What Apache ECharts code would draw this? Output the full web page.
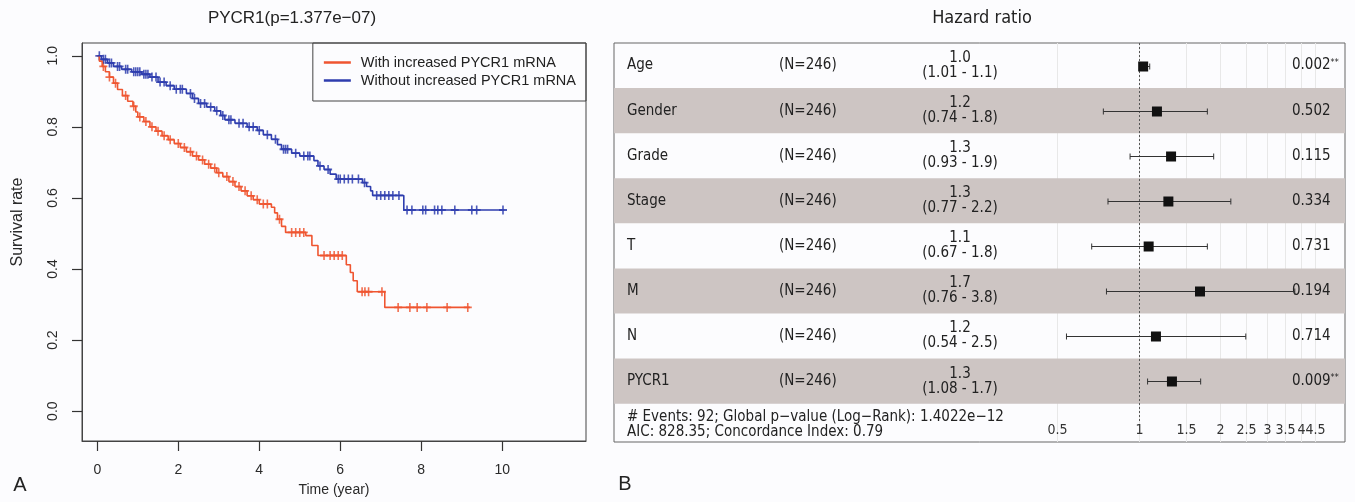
<!DOCTYPE html>
<html>
<head>
<meta charset="utf-8">
<script src="https://cdn.jsdelivr.net/npm/echarts@6/dist/echarts.min.js"></script>
<style>
  html, body { margin: 0; padding: 0; background: #fcfcfe; }
  #chart { width: 1355px; height: 502px; }
</style>
</head>
<body>
<div id="chart"></div>
<script>
// ---- Kaplan-Meier data: [time (year), survival] ----
const highCurve = [[0,1],[0.05,0.985],[0.12,0.97],[0.2,0.955],[0.3,0.94],[0.4,0.923],[0.5,0.905],[0.62,0.888],[0.75,0.872],[0.88,0.858],[0.95,0.842],[1.0,0.828],[1.15,0.815],[1.3,0.8],[1.45,0.788],[1.6,0.775],[1.75,0.764],[1.9,0.753],[2.05,0.742],[2.2,0.73],[2.35,0.718],[2.5,0.707],[2.65,0.695],[2.8,0.684],[2.95,0.671],[3.1,0.66],[3.25,0.646],[3.4,0.632],[3.55,0.62],[3.7,0.606],[3.85,0.595],[4.0,0.583],[4.3,0.574],[4.38,0.558],[4.45,0.54],[4.55,0.52],[4.65,0.503],[5.15,0.494],[5.3,0.466],[5.45,0.438],[6.15,0.412],[6.25,0.39],[6.32,0.367],[6.42,0.336],[7.1,0.292],[9.2,0.292]];
const lowCurve = [[0,1],[0.1,0.99],[0.25,0.98],[0.4,0.97],[0.6,0.962],[0.85,0.955],[1.1,0.948],[1.3,0.94],[1.5,0.926],[1.7,0.916],[1.9,0.906],[2.2,0.894],[2.35,0.88],[2.5,0.866],[2.7,0.856],[2.9,0.845],[3.05,0.832],[3.15,0.82],[3.4,0.81],[3.7,0.8],[3.95,0.79],[4.1,0.778],[4.3,0.765],[4.45,0.75],[4.55,0.737],[4.8,0.726],[5.0,0.718],[5.35,0.705],[5.45,0.69],[5.6,0.68],[5.75,0.667],[5.9,0.653],[6.55,0.643],[6.65,0.632],[6.75,0.62],[6.8,0.607],[7.57,0.566],[10.05,0.566]];
// censoring times (year)
const highCensor = [0.15,0.3,0.45,0.7,0.9,1.05,1.2,1.35,1.5,1.65,1.8,2.0,2.15,2.3,2.45,2.6,2.75,2.9,3.0,3.2,3.35,3.5,3.65,3.8,3.95,4.1,4.2,4.5,4.8,4.9,5.0,5.1,5.6,5.75,5.85,5.95,6.05,6.54,6.61,6.7,7.03,7.43,7.72,7.9,8.14,8.64,9.15];
const lowCensor = [0.05,0.15,0.2,0.3,0.35,0.5,0.55,0.7,0.75,0.9,0.95,1.0,1.05,1.15,1.2,1.25,1.35,1.45,1.55,1.65,1.8,1.95,2.05,2.1,2.3,2.4,2.55,2.65,2.8,2.95,3.1,3.25,3.3,3.5,3.6,3.75,3.85,4.0,4.2,4.4,4.6,4.65,4.7,4.9,5.1,5.2,5.25,5.5,5.7,5.95,6.0,6.1,6.2,6.3,6.45,6.6,6.9,7.0,7.1,7.2,7.3,7.45,7.65,7.77,8.04,8.11,8.33,8.41,8.51,8.83,9.25,9.37,10.02];
const timeTicks = [0, 2, 4, 6, 8, 10];
const survTicks = [0, 0.2, 0.4, 0.6, 0.8, 1.0];

// ---- Cox model (forest plot) ----
const variables = ['Age', 'Gender', 'Grade', 'Stage', 'T', 'M', 'N', 'PYCR1'];
const sampleN = [246, 246, 246, 246, 246, 246, 246, 246];
const hazard = [1.04, 1.17, 1.32, 1.29, 1.09, 1.69, 1.16, 1.33];
const hazardText = ['1.0', '1.2', '1.3', '1.3', '1.1', '1.7', '1.2', '1.3'];
const ciLow = [1.01, 0.74, 0.93, 0.77, 0.67, 0.76, 0.54, 1.08];
const ciHigh = [1.1, 1.8, 1.9, 2.2, 1.8, 3.8, 2.5, 1.7];
const pValues = ['0.002', '0.502', '0.115', '0.334', '0.731', '0.194', '0.714', '0.009'];
const pStars = ['**', '', '', '', '', '', '', '**'];
const hrTicks = [0.5, 1, 1.5, 2, 2.5, 3, 3.5, 4, 4.5];
const footerLines = [
  '# Events: 92; Global p\u2212value (Log\u2212Rank): 1.4022e\u221212',
  'AIC: 828.35; Concordance Index: 0.79'
];

const ORANGE = '#ef5530';
const BLUE = '#2e3dae';
const BAND = '#cdc5c3';
const SANS = "'Liberation Sans', Arial, sans-serif";
const NARROW = "'Liberation Sans Narrow', 'DejaVu Sans Condensed', 'Liberation Sans', sans-serif";
const CROSS = 'path://M4,0H6V4H10V6H6V10H4V6H0V4H4Z';
const X_MIN = -0.378, X_MAX = 12.07, Y_MIN = -0.084, Y_MAX = 1.036;

// survival value of a step curve at time t
function survAt(curve, t) {
  let s = curve[0][1];
  for (const p of curve) {
    if (p[0] <= t) s = p[1];
    else break;
  }
  return s;
}

const rows = variables.map((v, i) => [hazard[i], i, ciLow[i], ciHigh[i]]);

const chart = echarts.init(document.getElementById('chart'));

const option = {
  backgroundColor: '#fcfcfe',
  animation: false,
  graphic: [
    { id: 'title-a', type: 'text', x: 292, y: 18, style: { text: 'PYCR1(p=1.377e\u221207)', align: 'center', verticalAlign: 'middle', fontSize: 17, fontFamily: SANS, fill: '#222' } },
    { id: 'title-b', type: 'text', x: 982, y: 18, style: { text: 'Hazard ratio', align: 'center', verticalAlign: 'middle', fontSize: 18, fontFamily: NARROW, fill: '#222' } },
    { id: 'tag-a', type: 'text', x: 20, y: 485, style: { text: 'A', align: 'center', verticalAlign: 'middle', fontSize: 20, fontFamily: SANS, fill: '#222' } },
    { id: 'tag-b', type: 'text', x: 625, y: 484, style: { text: 'B', align: 'center', verticalAlign: 'middle', fontSize: 20, fontFamily: SANS, fill: '#222' } },
    { id: 'footer', type: 'text', x: 627, y: 425, style: { text: footerLines.join('\n'), align: 'left', verticalAlign: 'middle', lineHeight: 15, fontSize: 15, fontFamily: NARROW, fill: '#222' } }
  ],
  legend: {
    data: ['With increased PYCR1 mRNA', 'Without increased PYCR1 mRNA'],
    orient: 'vertical',
    right: 769,
    top: 43,
    padding: [12, 10, 13, 11],
    itemGap: 3,
    itemWidth: 27,
    itemHeight: 2.5,
    icon: 'rect',
    borderColor: '#444',
    borderWidth: 1,
    textStyle: { fontSize: 14.5, color: '#222', fontFamily: SANS, padding: [0, 0, 0, 5] }
  },
  grid: [
    { left: 82, top: 43, width: 504, height: 400, show: true, borderColor: '#444', borderWidth: 1, backgroundColor: 'transparent' },
    { left: 614, top: 43, width: 731, height: 399, show: true, borderColor: '#666', borderWidth: 1, backgroundColor: 'transparent' }
  ],
  xAxis: [
    {
      type: 'value', gridIndex: 0, min: X_MIN, max: X_MAX,
      axisLine: { show: true, onZero: false, lineStyle: { color: '#444', width: 1 } },
      axisTick: { show: false },
      axisLabel: { customValues: timeTicks, margin: 22, fontSize: 14, color: '#2a2a2a', fontFamily: SANS },
      splitLine: { show: false },
      name: 'Time (year)', nameLocation: 'middle', nameGap: 42,
      nameTextStyle: { fontSize: 14, color: '#2a2a2a', fontFamily: SANS }
    },
    { type: 'log', gridIndex: 1, min: 0.0113, max: 5.836, show: false }
  ],
  yAxis: [
    {
      type: 'value', gridIndex: 0, min: Y_MIN, max: Y_MAX,
      axisLine: { show: true, onZero: false, lineStyle: { color: '#444', width: 1 } },
      axisTick: { show: false },
      axisLabel: { customValues: survTicks, rotate: 90, margin: 22, fontSize: 14, color: '#2a2a2a', fontFamily: SANS, formatter: v => v.toFixed(1) },
      splitLine: { show: false },
      name: 'Survival rate', nameLocation: 'middle', nameGap: 56, nameRotate: 90,
      nameTextStyle: { fontSize: 16, color: '#2a2a2a', fontFamily: SANS, padding: [0, 0, 0, 40] }
    },
    { type: 'value', gridIndex: 1, min: -0.5, max: 8.35, inverse: true, show: false }
  ],
  series: [
    {
      name: 'With increased PYCR1 mRNA', type: 'line', xAxisIndex: 0, yAxisIndex: 0,
      data: highCurve, step: 'end', showSymbol: false, symbol: 'none',
      lineStyle: { color: ORANGE, width: 1.6 }, itemStyle: { color: ORANGE }
    },
    {
      name: 'Without increased PYCR1 mRNA', type: 'line', xAxisIndex: 0, yAxisIndex: 0,
      data: lowCurve, step: 'end', showSymbol: false, symbol: 'none',
      lineStyle: { color: BLUE, width: 1.6 }, itemStyle: { color: BLUE }
    },
    {
      name: 'high-censor', type: 'scatter', xAxisIndex: 0, yAxisIndex: 0, silent: true,
      data: highCensor.map(t => [t, survAt(highCurve, t)]),
      symbol: CROSS, symbolSize: [8, 9], itemStyle: { color: ORANGE, opacity: 0.85 }
    },
    {
      name: 'low-censor', type: 'scatter', xAxisIndex: 0, yAxisIndex: 0, silent: true,
      data: lowCensor.map(t => [t, survAt(lowCurve, t)]),
      symbol: CROSS, symbolSize: [8, 9], itemStyle: { color: BLUE, opacity: 0.85 }
    },
    {
      // vertical grid lines and tick labels of the HR axis
      name: 'hr-grid', type: 'custom', xAxisIndex: 1, yAxisIndex: 1, silent: true,
      data: hrTicks.map(v => [v, 0]),
      renderItem: function (params, api) {
        const cs = params.coordSys;
        const v = api.value(0);
        const x = Math.round(api.coord([v, 0])[0]) + 0.5;
        return {
          type: 'group',
          children: [
            { type: 'line', shape: { x1: x, y1: cs.y, x2: x, y2: cs.y + cs.height }, style: { stroke: '#e8e8e8', lineWidth: 1 } },
            { type: 'text', x: x, y: cs.y + cs.height - 12, style: { text: String(v), align: 'center', verticalAlign: 'middle', fontSize: 14, fontFamily: NARROW, fill: '#333' } }
          ]
        };
      }
    },
    {
      // row bands and text columns
      name: 'hr-rows', type: 'custom', xAxisIndex: 1, yAxisIndex: 1, silent: true,
      data: rows,
      renderItem: function (params, api) {
        const cs = params.coordSys;
        const k = params.dataIndex;
        const i = api.value(1);
        const top = api.coord([1, i - 0.5])[1];
        const bot = api.coord([1, i + 0.5])[1];
        const cy = (top + bot) / 2;
        const font = { fontSize: 15, fontFamily: NARROW, fill: '#222' };
        const kids = [];
        if (i % 2 === 1) {
          kids.push({ type: 'rect', shape: { x: cs.x, y: top, width: cs.width, height: bot - top }, style: { fill: BAND } });
        }
        kids.push({ type: 'text', x: cs.x + 13, y: cy, style: Object.assign({ text: variables[k], align: 'left', verticalAlign: 'middle' }, font) });
        kids.push({ type: 'text', x: cs.x + 165, y: cy, style: Object.assign({ text: '(N=' + sampleN[k] + ')', align: 'left', verticalAlign: 'middle' }, font) });
        kids.push({ type: 'text', x: cs.x + 346, y: cy, style: Object.assign({ text: hazardText[k] + '\n(' + ciLow[k] + ' - ' + ciHigh[k] + ')', align: 'center', verticalAlign: 'middle', lineHeight: 15 }, font) });
        kids.push({
          type: 'text', x: cs.x + 678, y: cy,
          style: Object.assign({
            text: pValues[k] + (pStars[k] ? '{s|' + pStars[k] + '}' : ''),
            align: 'left', verticalAlign: 'middle',
            rich: { s: { fontSize: 9, fontFamily: NARROW, fill: '#222', padding: [0, 0, 6, 0] } }
          }, font)
        });
        return { type: 'group', children: kids };
      }
    },
    {
      // reference line at HR = 1
      name: 'hr-ref', type: 'custom', xAxisIndex: 1, yAxisIndex: 1, silent: true,
      data: [[1, 0]],
      renderItem: function (params, api) {
        const cs = params.coordSys;
        const x = Math.round(api.coord([api.value(0), 0])[0]) + 0.5;
        return { type: 'line', shape: { x1: x, y1: cs.y, x2: x, y2: cs.y + cs.height - 21 }, style: { stroke: '#555', lineWidth: 1, lineDash: [2, 2] } };
      }
    },
    {
      // confidence intervals and point estimates
      name: 'hr-ci', type: 'custom', xAxisIndex: 1, yAxisIndex: 1, silent: true,
      data: rows,
      renderItem: function (params, api) {
        const i = api.value(1);
        const c = api.coord([api.value(0), i]);
        const lo = api.coord([api.value(2), i]);
        const hi = api.coord([api.value(3), i]);
        const y = Math.round(c[1]) + 0.5;
        const s = 10;
        return {
          type: 'group',
          children: [
            { type: 'line', shape: { x1: lo[0], y1: y, x2: hi[0], y2: y }, style: { stroke: '#333', lineWidth: 1 } },
            { type: 'line', shape: { x1: lo[0], y1: y - 3, x2: lo[0], y2: y + 3 }, style: { stroke: '#333', lineWidth: 1 } },
            { type: 'line', shape: { x1: hi[0], y1: y - 3, x2: hi[0], y2: y + 3 }, style: { stroke: '#333', lineWidth: 1 } },
            { type: 'rect', shape: { x: c[0] - s / 2, y: y - s / 2, width: s, height: s }, style: { fill: '#111' } }
          ]
        };
      }
    }
  ]
};

chart.setOption(option);

// outward axis ticks (R style), positioned through the chart's own scales
const ticks = [];
const corner = chart.convertToPixel({ gridIndex: 0 }, [X_MIN, Y_MIN]);
timeTicks.forEach((v, i) => {
  const x = Math.round(chart.convertToPixel({ gridIndex: 0 }, [v, 0])[0]) + 0.5;
  ticks.push({ id: 'xt' + i, type: 'line', z: 50, shape: { x1: x, y1: corner[1], x2: x, y2: corner[1] + 10 }, style: { stroke: '#333', lineWidth: 1.2 } });
});
survTicks.forEach((v, i) => {
  const y = Math.round(chart.convertToPixel({ gridIndex: 0 }, [0, v])[1]) + 0.5;
  ticks.push({ id: 'yt' + i, type: 'line', z: 50, shape: { x1: corner[0] - 10, y1: y, x2: corner[0], y2: y }, style: { stroke: '#333', lineWidth: 1.2 } });
});
chart.setOption({ graphic: ticks });
</script>
</body>
</html>
